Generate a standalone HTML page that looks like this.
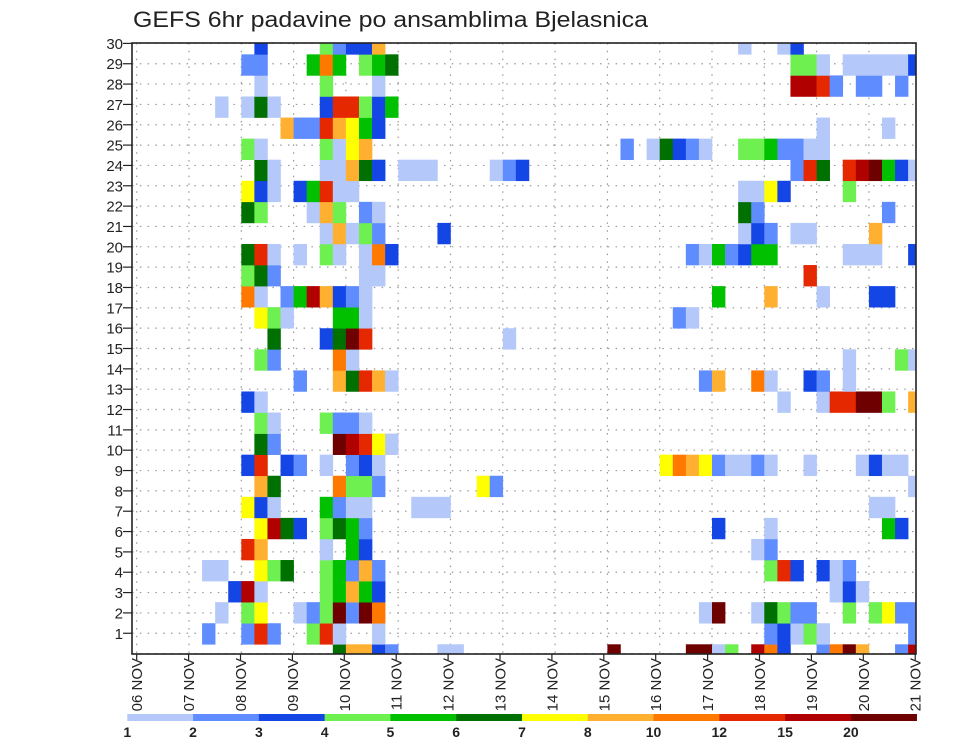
<!DOCTYPE html>
<html><head><meta charset="utf-8"><style>
html,body{margin:0;padding:0;background:#fff;}
svg{display:block;font-family:"Liberation Sans",sans-serif;}
</style></head><body>
<svg id="chart" width="960" height="742" viewBox="0 0 960 742" xmlns="http://www.w3.org/2000/svg">
<text x="133" y="27" font-size="22" textLength="515" lengthAdjust="spacingAndGlyphs" fill="#222">GEFS 6hr padavine po ansamblima Bjelasnica</text>
<defs><clipPath id="plotclip"><rect x="132" y="43" width="784" height="611"/></clipPath></defs>
<g id="grid"></g>
<g id="cells" clip-path="url(#plotclip)"></g>
<rect x="132" y="43" width="784" height="611" fill="none" stroke="#222" stroke-width="1.6"/>
<g id="yaxis"></g>
<g id="xaxis"></g>
<g id="legend"></g>
</svg>
<script>
const levelColors = ["#b4c8fa","#5f8cff","#1446e6","#6ef050","#00c000","#007000","#ffff00","#ffb030","#ff7800","#e62800","#b00000","#6e0000"];
const legendLabels = ["1","2","3","4","5","6","7","8","10","12","15","20"];
const dayLabels = ["06 NOV","07 NOV","08 NOV","09 NOV","10 NOV","11 NOV","12 NOV","13 NOV","14 NOV","15 NOV","16 NOV","17 NOV","18 NOV","19 NOV","20 NOV","21 NOV"];
const memberLabels = [1,2,3,4,5,6,7,8,9,10,11,12,13,14,15,16,17,18,19,20,21,22,23,24,25,26,27,28,29,30];
const cellRows = [
"15:6 16:8 17:8 18:3 19:2 23:1 24:1 36:c 42:c 43:c 44:1 45:4 47:b 48:9 49:3 52:2 53:9 54:c 55:8 58:2 59:b",
"5:2 8:2 9:a 10:2 13:4 14:a 15:1 18:1 48:2 49:3 50:1 51:4 52:1 59:2",
"6:1 8:4 9:7 12:1 13:2 14:4 15:c 16:2 17:c 18:9 43:1 44:c 47:1 48:6 49:4 50:2 51:2 54:4 56:4 57:7 58:2 59:2",
"7:3 8:b 9:1 14:4 15:5 16:8 17:5 18:3 53:1 54:3 55:1",
"5:1 6:1 9:7 10:4 11:6 14:4 15:5 16:2 17:8 18:2 48:4 49:a 50:3 52:3 53:1 54:2",
"8:a 9:8 14:1 16:5 17:3 47:1 48:2",
"9:7 10:b 11:6 12:3 14:4 15:6 16:5 17:2 44:3 48:1 57:5 58:3",
"8:7 9:3 10:1 14:5 15:2 16:1 17:1 21:1 22:1 23:1 56:1 57:1",
"9:8 10:6 15:9 16:4 17:4 18:2 26:7 27:2 59:1",
"8:3 9:a 11:3 12:2 14:1 16:2 17:3 18:1 40:7 41:9 42:8 43:7 44:2 45:1 46:1 47:2 48:1 51:1 55:1 56:3 57:1 58:1",
"9:6 10:2 15:c 16:b 17:a 18:7 19:1",
"9:4 10:1 14:4 15:2 16:2 17:1",
"8:3 9:1 49:1 52:1 53:a 54:a 55:c 56:c 57:4 59:8",
"12:2 15:8 16:6 17:a 18:8 19:1 43:2 44:8 47:9 48:1 51:3 52:2 54:1",
"9:4 10:2 15:9 16:1 54:1 58:4 59:1",
"10:6 14:3 15:6 16:c 17:a 28:1",
"9:7 10:4 11:1 15:5 16:5 17:1 41:2 42:1",
"8:9 9:1 11:2 12:5 13:b 14:8 15:3 16:2 17:1 44:5 48:8 52:1 56:3 57:3",
"8:4 9:6 10:2 17:1 18:1 51:a",
"8:6 9:a 10:1 12:1 14:4 15:1 17:1 18:9 19:3 42:2 43:1 44:5 45:2 46:3 47:5 48:5 54:1 55:1 56:1 59:3",
"14:1 15:8 16:1 17:4 18:2 23:3 46:1 47:3 48:2 50:1 51:1 56:8",
"8:6 9:4 13:1 14:8 15:4 17:2 18:1 46:6 47:2 57:2",
"8:7 9:3 10:1 12:3 13:5 14:a 15:1 16:1 46:1 47:1 48:7 49:3 54:4",
"9:6 10:1 14:1 15:1 16:8 17:6 18:3 20:1 21:1 22:1 27:1 28:2 29:3 50:2 51:a 52:6 54:a 55:b 56:c 57:5 58:3 59:1",
"8:4 9:1 14:4 15:1 16:7 17:8 37:2 39:1 40:6 41:3 42:2 43:1 46:4 47:4 48:5 49:2 50:2 51:1 52:1",
"11:8 12:2 13:2 14:a 15:8 16:7 17:5 18:3 52:1 57:1",
"6:1 8:1 9:6 10:1 14:3 15:a 16:a 17:4 18:3 19:5",
"9:1 14:4 18:1 50:b 51:b 52:a 53:2 55:2 56:2 58:2",
"8:2 9:2 13:5 14:9 15:5 17:4 18:5 19:6 50:4 51:4 52:1 54:1 55:1 56:1 57:1 58:1 59:3",
"9:3 14:4 15:2 16:3 17:3 18:8 46:1 49:1 50:3"
];

const NS = "http://www.w3.org/2000/svg";
const PX0 = 136.7, COLW = 13.075, DAYW = 52.3;
const PL = 132, PR = 916, PT = 43, PB = 654;
function xCol(c){ return PX0 + COLW * c; }
function xDay(d){ return PX0 + DAYW * d; }
function yBandTop(k){ return 644.3 - 21.07 * k; }
const BANDH = 21.07;
function yLab(r){ return 653.6 - 20.34 * r; }
function xLabel(i){ return 136.7 + 51.9 * i; }
function mk(tag, attrs, parent){ const e = document.createElementNS(NS, tag); for (const k in attrs) e.setAttribute(k, attrs[k]); parent.appendChild(e); return e; }
function lvl(ch){ return parseInt(ch, 16); }

const grid = document.getElementById('grid');
for (let r = 0; r <= 30; r++) {
  const y = yLab(r);
  const l = mk('line', {x1: PL, x2: PR, y1: y, y2: y, stroke: '#999', 'stroke-width': 1.2, 'stroke-dasharray': '1.5 6.3'}, grid);
  
  
}
for (let d = 0; d < 15; d++) {
  const x = xDay(d);
  const l = mk('line', {x1: x, x2: x, y1: PT, y2: PB, stroke: '#999', 'stroke-width': 1.2, 'stroke-dasharray': '1.5 6.3'}, grid);
  
  
}

const cells = document.getElementById('cells');
cellRows.forEach(function(row, k){
  row.split(' ').forEach(function(tok){
    if (!tok) return;
    const p = tok.split(':');
    const c = parseInt(p[0], 10), v = lvl(p[1]);
    const r = mk('rect', {x: xCol(c), y: yBandTop(k), width: COLW + 0.3, height: BANDH + 0.3, fill: levelColors[v - 1]}, cells);
    
    
  });
});

const yaxis = document.getElementById('yaxis');
memberLabels.forEach(function(m){
  const y = yLab(m);
  const t = mk('line', {x1: PL - 9, x2: PL, y1: y, y2: y, stroke: '#222', 'stroke-width': 1.2}, yaxis);
  
  
  const tx = mk('text', {x: PL - 9, y: y + 5.5, 'font-size': 15, 'text-anchor': 'end', fill: '#222'}, yaxis);
  tx.textContent = m;
  
  
});

const xaxis = document.getElementById('xaxis');
dayLabels.forEach(function(lab, i){
  const x = xLabel(i);
  const t = mk('line', {x1: x, x2: x, y1: PB, y2: PB + 6, stroke: '#222', 'stroke-width': 1.2}, xaxis);
  
  
  const tx = mk('text', {x: 0, y: 0, 'font-size': 15, 'text-anchor': 'end', fill: '#222', transform: 'translate(' + (x + 5.5) + ',' + (PB + 4) + ') rotate(-90)'}, xaxis);
  tx.textContent = lab;
  
  
});

const legend = document.getElementById('legend');
const LX0 = 127.3, LW = 65.78;
levelColors.forEach(function(col, i){
  const r = mk('rect', {x: LX0 + LW * i, y: 714, width: LW + 0.3, height: 7, fill: col}, legend);
  
  
});
legendLabels.forEach(function(lab, i){
  const t = mk('text', {x: LX0 + LW * i, y: 737, 'font-size': 14, 'font-weight': 'bold', 'text-anchor': 'middle', fill: '#222'}, legend);
  t.textContent = lab;
  
  
});
</script>
</body></html>
